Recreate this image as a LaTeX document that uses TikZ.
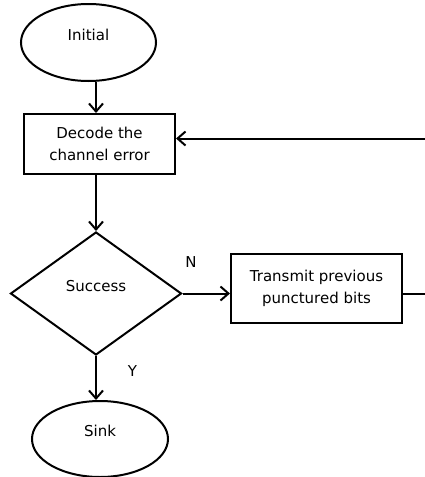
\documentclass[tikz,border=0pt]{standalone}
\usepackage{fontspec}
\setmainfont{DejaVu Sans}
\usetikzlibrary{shapes.geometric,arrows.meta}

\begin{document}
\begin{tikzpicture}[x=1pt, y=-1pt, line width=2pt,
    every node/.style={font=\fontsize{15}{22}\selectfont},
    terminal/.style={draw, ellipse, minimum width=135pt, minimum height=77pt, text depth=16pt},
    process/.style={draw, rectangle, align=center, minimum width=151pt, minimum height=60pt},
    decision/.style={draw, diamond, aspect=1.39, minimum width=171pt, minimum height=123pt, inner sep=0pt, text depth=15pt},
    flow/.style={-{Straight Barb[length=8pt, width=14pt]}}]
    \useasboundingbox (0,0) rectangle (425,477);

    % Draw the shapes
    \node[terminal] (initial) at (88.5, 42.5) {Initial};
    \node[process] (decode) at (99.5, 144) {Decode the\\channel error};
    \node[decision] (success) at (96, 293.5) {Success};
    \node[process, minimum width=171pt, minimum height=69pt] (transmit) at (316.5, 288.5) {Transmit previous\\punctured bits};
    \node[terminal, minimum width=136pt, minimum height=76pt] (sink) at (100, 439) {Sink};

    % Branch labels
    \node (no) at (191, 262) {N};
    \node (yes) at (132.5, 371.5) {Y};

    % Loose ends at the right border
    \coordinate (spine) at (96, 0);
    \coordinate (out) at (425, 293.5);
    \coordinate (back) at (425, 138.5);

    % Draw the connectors
    \draw[flow] (initial.south -| spine) -- (decode.north -| spine);
    \draw[flow] (decode.south -| spine) -- (success.north);
    \draw[flow] (success.south) -- (sink.north -| success.south);
    \draw[flow] (success.east) -- (success.east -| transmit.west);
    \draw (transmit.east |- out) -- (out);
    \draw[flow] (back) -- (back -| decode.east);
\end{tikzpicture}
\end{document}
